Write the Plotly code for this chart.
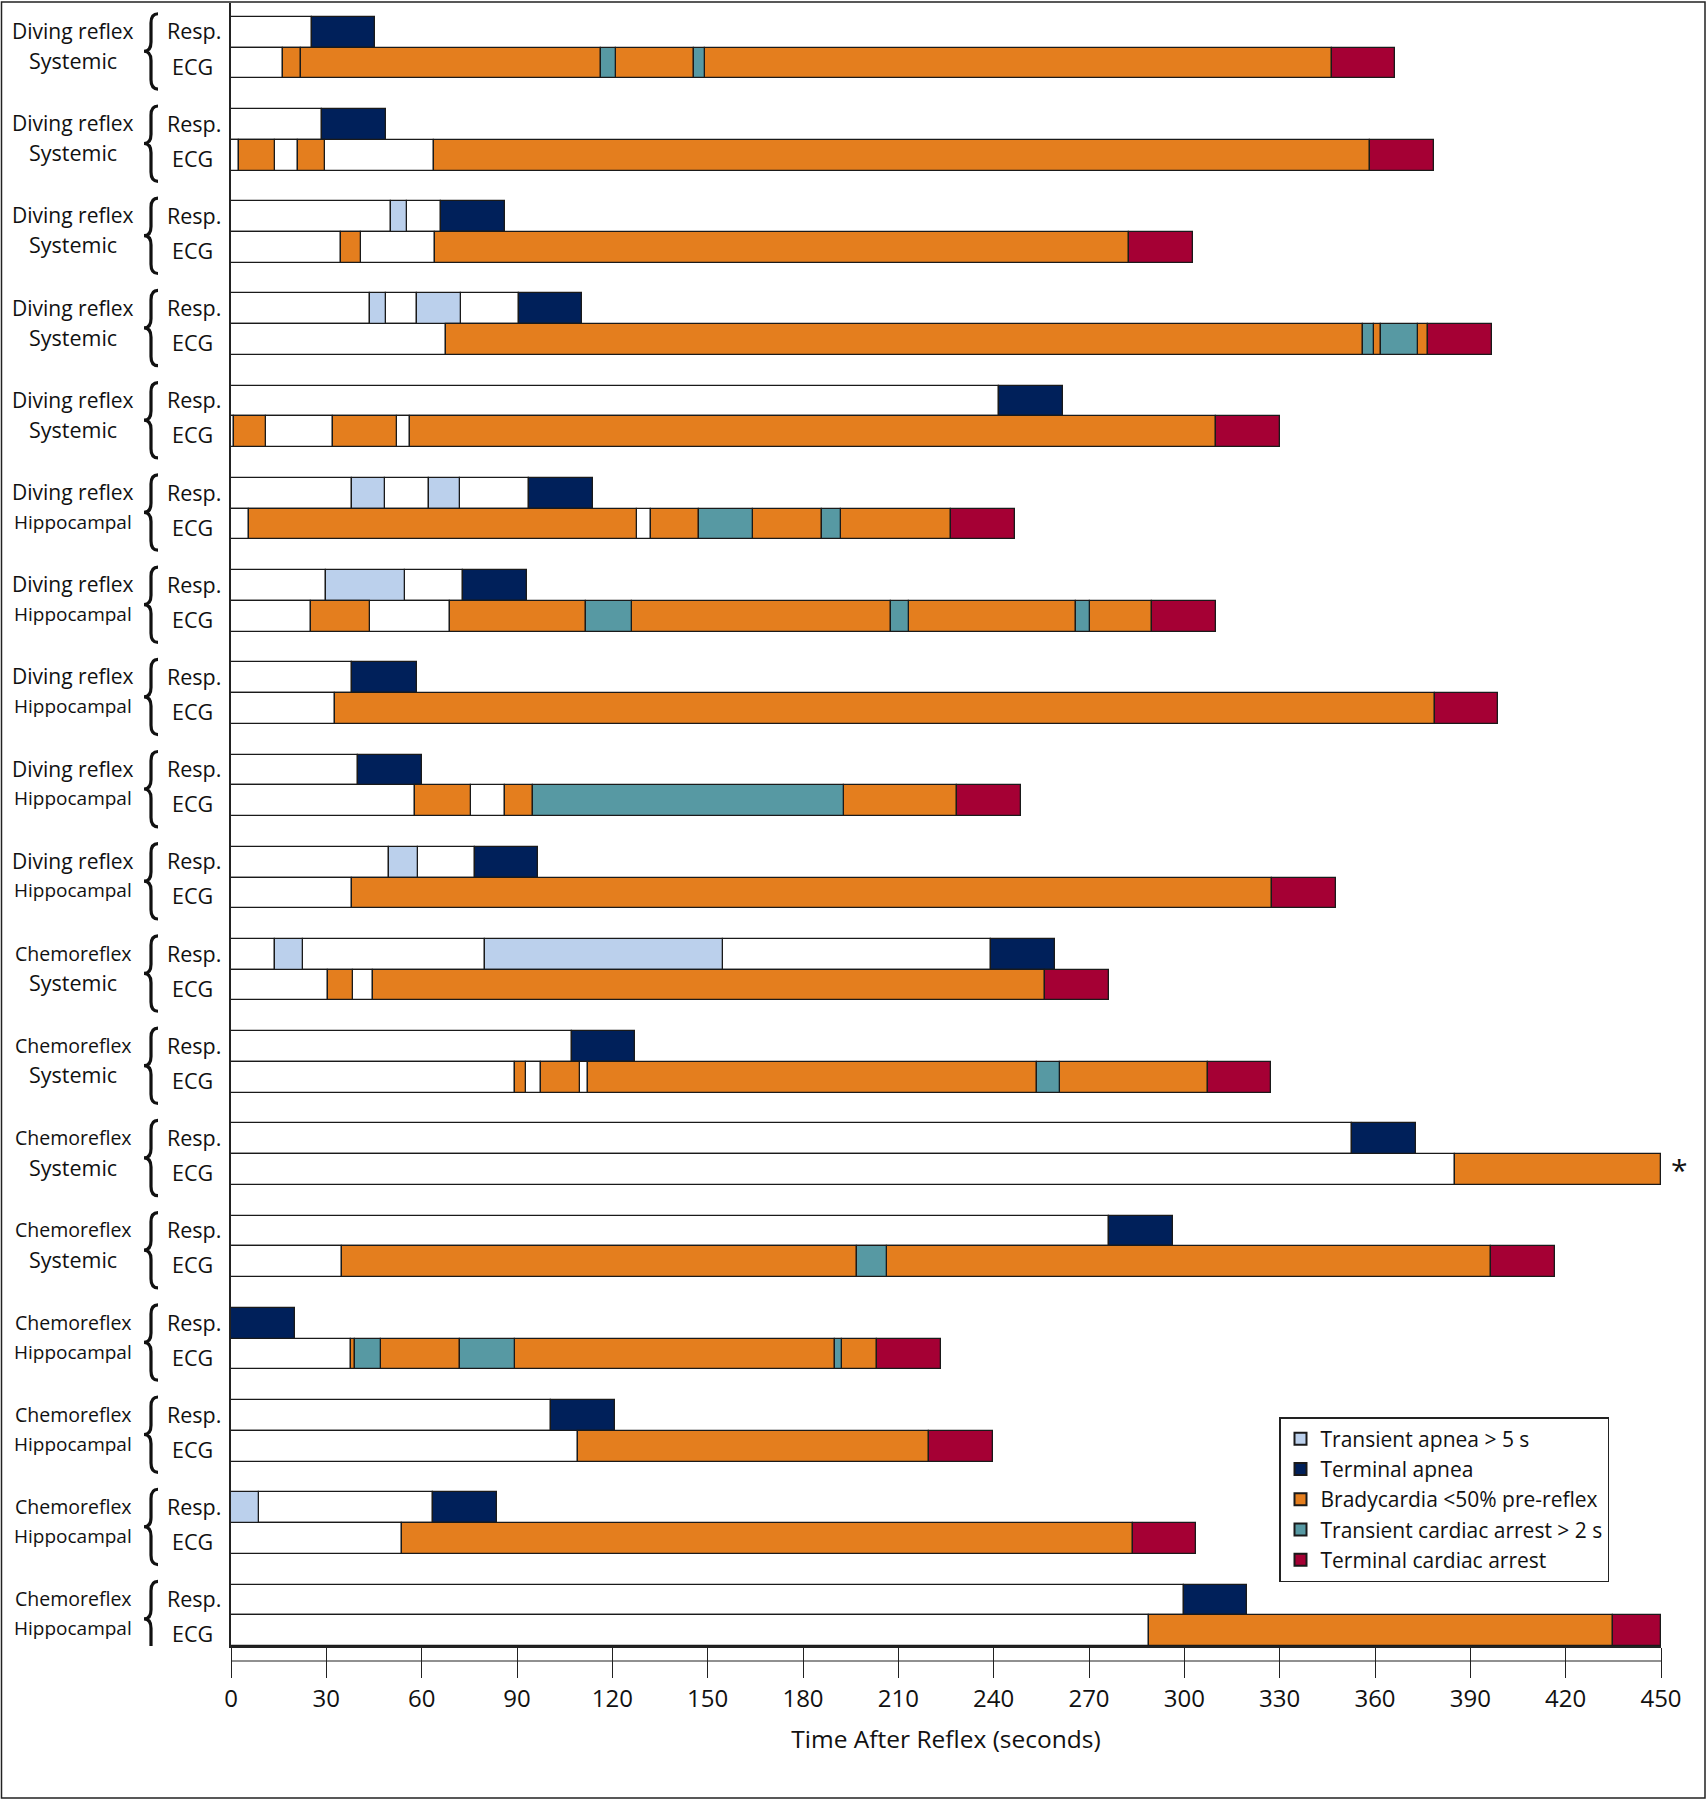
import plotly.graph_objects as go

# subject labels (top to bottom)
reflex = ["Diving reflex"] * 10 + ["Chemoreflex"] * 8
site = (["Systemic"] * 5 + ["Hippocampal"] * 5
        + ["Systemic"] * 4 + ["Hippocampal"] * 4)

# segment end times (s) and state codes for each row
# W = none, A = transient apnea, N = terminal apnea,
# B = bradycardia, C = transient cardiac arrest, X = terminal cardiac arrest
resp_ends = [
    [25.4, 45.4],
    [28.6, 48.7],
    [50.4, 55.4, 66.1, 86.1],
    [43.6, 48.7, 58.4, 72.5, 90.5, 110.3],
    [241.8, 261.9],
    [38.0, 48.4, 62.2, 72.2, 93.8, 113.8],
    [29.8, 54.6, 73.1, 93.2],
    [38.0, 58.4],
    [40.1, 60.2],
    [49.8, 58.7, 76.7, 96.7],
    [13.9, 22.7, 79.9, 154.8, 239.2, 259.2],
    [107.3, 127.1],
    [352.7, 372.8],
    [276.3, 296.4],
    [20.1],
    [100.6, 120.9],
    [8.8, 63.7, 83.8],
    [299.9, 319.7],
]
resp_codes = [
    "WN", "WN", "WAWN", "WAWAWN", "WN", "WAWAWN", "WAWN", "WN", "WN", "WAWN",
    "WAWAWN", "WN", "WN", "WN", "N", "WN", "AWN", "WN",
]
ecg_ends = [
    [16.5, 22.1, 116.5, 121.2, 145.7, 149.2, 346.5, 366.3],
    [2.4, 13.9, 21.2, 29.5, 64.0, 358.3, 378.6],
    [34.5, 41.0, 64.3, 282.5, 302.6],
    [67.8, 356.2, 359.8, 361.8, 373.6, 376.6, 396.9],
    [0.9, 10.9, 32.1, 52.2, 56.3, 309.9, 330.0],
    [5.6, 127.7, 132.1, 147.2, 164.3, 186.1, 192.0, 226.5, 246.8],
    [25.1, 43.6, 69.0, 111.8, 126.2, 207.6, 213.5, 266.0, 270.4, 289.9, 309.9],
    [32.7, 378.9, 398.7],
    [57.8, 75.5, 86.1, 95.0, 192.9, 228.5, 248.6],
    [38.0, 327.6, 347.7],
    [30.4, 38.3, 44.8, 256.3, 276.3],
    [89.4, 92.9, 97.6, 109.7, 112.4, 253.6, 261.0, 307.3, 327.3],
    [385.1, 450.0],
    [34.8, 197.0, 206.4, 396.6, 416.7],
    [37.7, 38.9, 47.2, 72.0, 89.4, 190.2, 192.3, 203.2, 223.5],
    [109.1, 219.7, 239.8],
    [53.7, 283.7, 303.7],
    [289.0, 435.0, 450.0],
]
ecg_codes = [
    "WBBCBCBX", "WBWBWBX", "WBWBX", "WBCBCBX", "WBWBWBX", "WBWBCBCBX",
    "WBWBCBCBCBX", "WBX", "WBWBCBX", "WBX", "WBWBX", "WBWBWBCBX", "WB",
    "WBCBX", "WBCBCBCBX", "WBX", "WBX", "WBX",
]

states = ["W", "A", "N", "B", "C", "X"]
names = {
    "W": "None",
    "A": "Transient apnea > 5 s",
    "N": "Terminal apnea",
    "B": "Bradycardia <50% pre-reflex",
    "C": "Transient cardiac arrest > 2 s",
    "X": "Terminal cardiac arrest",
}
colors = {
    "W": "#ffffff",
    "A": "#bbd0ec",
    "N": "#00205a",
    "B": "#e47e1e",
    "C": "#5799a3",
    "X": "#a50034",
}

FONT = "Open Sans"
W, H = 1707, 1800
L, R, T, B = 231, 46, 3, 154
PW = W - L - R
PH = H - T - B


def px2paper(px):
    return (px - L) / PW


segs = {s: {"base": [], "x": [], "y": []} for s in states}
for i in range(len(reflex)):
    for row, ends, codes in ((3 * i, resp_ends[i], resp_codes[i]),
                             (3 * i + 1, ecg_ends[i], ecg_codes[i])):
        start = 0.0
        for end, c in zip(ends, codes):
            segs[c]["base"].append(start)
            segs[c]["x"].append(end - start)
            segs[c]["y"].append(row)
            start = end

fig = go.Figure()
for s in states:
    fig.add_trace(go.Bar(
        orientation="h",
        base=segs[s]["base"],
        x=segs[s]["x"],
        y=segs[s]["y"],
        width=1,
        name=names[s],
        showlegend=(s != "W"),
        marker=dict(color=colors[s], line=dict(color="#1a1a1a", width=1.3)),
    ))

annotations = []
shapes = []
for i in range(len(reflex)):
    y0 = 3 * i
    chemo = reflex[i] == "Chemoreflex"
    annotations.append(dict(
        text=reflex[i], x=px2paper(73), y=y0 - 0.04, xref="paper", yref="y",
        showarrow=False, xanchor="center", yanchor="middle",
        font=dict(size=19.5 if chemo else 21, family=FONT, color="#111"),
    ))
    annotations.append(dict(
        text=site[i], x=px2paper(73), y=y0 + 0.92, xref="paper", yref="y",
        showarrow=False, xanchor="center", yanchor="middle",
        font=dict(size=19 if site[i] == "Hippocampal" else 21.5, family=FONT, color="#111"),
    ))
    annotations.append(dict(
        text="Resp.", x=px2paper(194), y=y0 - 0.04, xref="paper", yref="y",
        showarrow=False, xanchor="center", yanchor="middle",
        font=dict(size=21.5, family=FONT, color="#111"),
    ))
    annotations.append(dict(
        text="ECG", x=px2paper(192), y=y0 + 1.1, xref="paper", yref="y",
        showarrow=False, xanchor="center", yanchor="middle",
        font=dict(size=21.5, family=FONT, color="#111"),
    ))
    # curly brace
    xr, xm, xl = px2paper(158), px2paper(151), px2paper(144)
    top, mid, bot = y0 - 0.6, y0 + 0.62, y0 + 1.85
    r = 0.3
    path = (f"M {xr},{top} Q {xm},{top} {xm},{top + r} "
            f"L {xm},{mid - r} Q {xm},{mid} {xl},{mid} "
            f"Q {xm},{mid} {xm},{mid + r} "
            f"L {xm},{bot - r} Q {xm},{bot} {xr},{bot}")
    shapes.append(dict(type="path", path=path, xref="paper", yref="y",
                       line=dict(color="#111", width=3.2)))

# asterisk after the truncated bar
annotations.append(dict(
    text="*", x=450, y=3 * 12 + 1, xref="x", yref="y", showarrow=False,
    xanchor="left", yanchor="middle", xshift=8,
    font=dict(size=30, family=FONT, color="#111"),
))

# second line under the axis, crossing the ticks
shapes.append(dict(type="line", xref="x", yref="paper", x0=0, x1=450,
                   y0=-15 / PH, y1=-15 / PH,
                   line=dict(color="#222", width=1.2)))
# outer frame
shapes.append(dict(type="rect", xref="paper", yref="paper",
                   x0=px2paper(1.5), x1=px2paper(W - 2),
                   y0=-(B - 2) / PH, y1=1 + (T - 2) / PH,
                   line=dict(color="#222", width=1.5)))

fig.update_layout(
    width=W, height=H,
    margin=dict(l=L, r=R, t=T, b=B),
    paper_bgcolor="white", plot_bgcolor="white",
    barmode="overlay", bargap=0,
    font=dict(family=FONT, color="#111"),
    xaxis=dict(
        range=[0, 450], tickvals=list(range(0, 451, 30)),
        ticks="outside", ticklen=30, tickwidth=1, tickcolor="#222",
        showgrid=False, zeroline=False,
        showline=True, linecolor="#222", linewidth=1.5,
        tickfont=dict(size=24, family=FONT),
        title=dict(text="Time After Reflex (seconds)", font=dict(size=24.5, family=FONT), standoff=18),
    ),
    yaxis=dict(
        range=[52.5, -0.95], showticklabels=False, ticks="",
        showgrid=False, zeroline=False,
        showline=True, linecolor="#222", linewidth=1.5,
    ),
    legend=dict(
        x=px2paper(1279), y=1 - (1417 - T) / PH,
        xanchor="left", yanchor="top",
        bordercolor="#222", borderwidth=1.5, bgcolor="white",
        font=dict(size=21, family=FONT), tracegroupgap=0,
        itemsizing="constant",
    ),
    annotations=annotations,
    shapes=shapes,
)

fig.write_html("out.html", config={"displayModeBar": False},
               post_script="document.body.style.margin='0';")
